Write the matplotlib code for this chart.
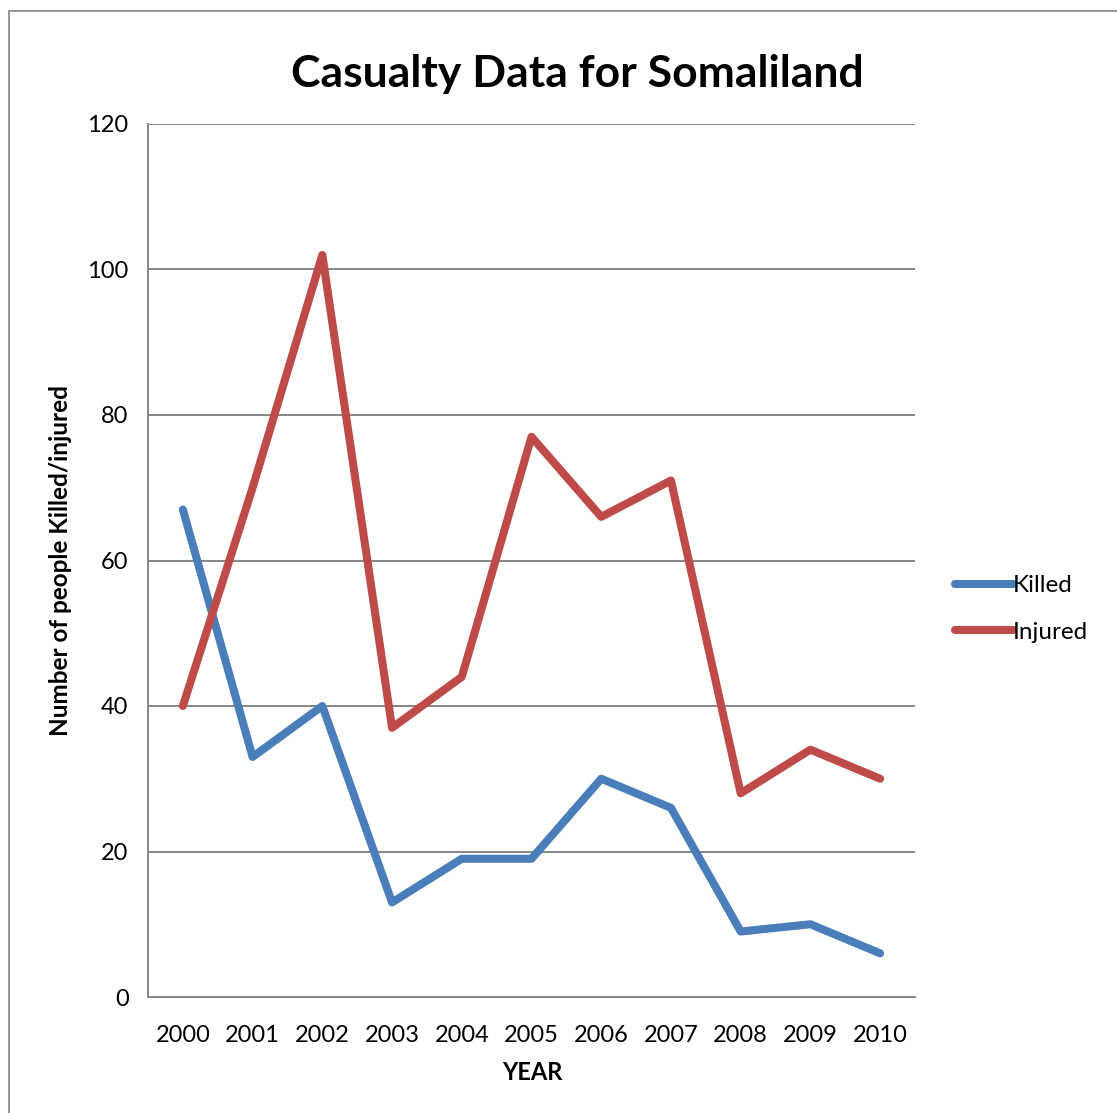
import matplotlib
matplotlib.use("Agg")
import matplotlib.pyplot as plt
from matplotlib.patches import Rectangle

years = ["2000", "2001", "2002", "2003", "2004", "2005", "2006", "2007", "2008", "2009", "2010"]
killed = [67, 33, 40, 13, 19, 19, 30, 26, 9, 10, 6]
injured = [40, 70, 102, 37, 44, 77, 66, 71, 28, 34, 30]
yticks = [0, 20, 40, 60, 80, 100, 120]

plt.rcParams['font.family'] = ['Lato', 'DejaVu Sans']

W, H = 1117, 1113
fig = plt.figure(figsize=(W / 100, H / 100), dpi=100)
fig.patches.append(Rectangle((9 / W, -0.1), 1.2, 1 - 11 / H + 0.1, transform=fig.transFigure,
                             fill=False, edgecolor='#8c8c8c', linewidth=1.3))

ax = fig.add_axes([148 / W, 1 - 997 / H, (915 - 148) / W, (997 - 124) / H])
x = list(range(len(years)))
ax.plot(x, killed, color='#4a7ebb', linewidth=5.8, solid_capstyle='round', solid_joinstyle='round', label='Killed')
ax.plot(x, injured, color='#be4b48', linewidth=5.8, solid_capstyle='round', solid_joinstyle='round', label='Injured')

ax.set_xlim(-0.5, len(years) - 0.5)
ax.set_ylim(0, 120)
ax.set_yticks(yticks)
ax.set_xticks(x)
ax.set_xticklabels(years)
ax.tick_params(axis='both', length=0, labelsize=17, colors='black')
ax.tick_params(axis='y', pad=14)
ax.tick_params(axis='x', pad=20)
ax.grid(axis='y', color='#868686', linewidth=1.4)
ax.set_axisbelow(True)
for s in ['top', 'right']:
    ax.spines[s].set_visible(False)
for s in ['left', 'bottom']:
    ax.spines[s].set_color('#868686')
    ax.spines[s].set_linewidth(1.4)

fig.text(577 / W, 1 - 74 / H, "Casualty Data for Somaliland", ha='center', va='center',
         fontsize=32, fontweight='bold')
fig.text(532 / W, 1 - 1072 / H, "YEAR", ha='center', va='center', fontsize=17, fontweight='bold')
fig.text(61 / W, 1 - 560 / H, "Number of people Killed/injured", ha='center', va='center',
         rotation=90, fontsize=17.5, fontweight='bold')

leg = ax.legend(loc='center left', bbox_to_anchor=(933 / W, 1 - 609 / H), bbox_transform=fig.transFigure,
                frameon=False, fontsize=17.5, handlelength=2.4, handletextpad=0.0, labelspacing=1.05)

fig.savefig("out.png", dpi=100)
